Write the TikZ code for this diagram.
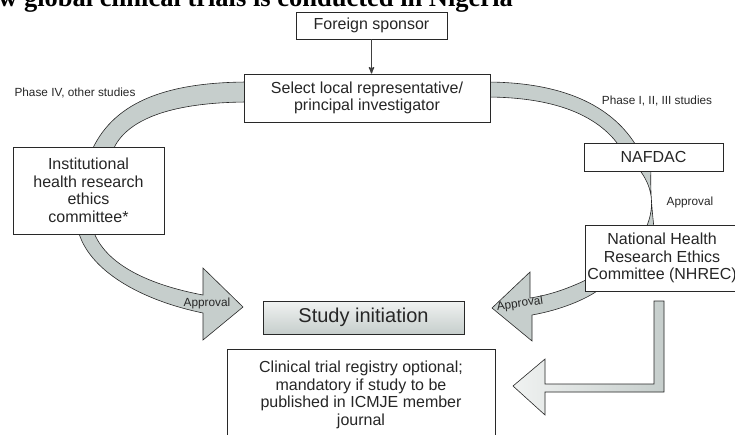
\documentclass[tikz,border=0pt]{standalone}
\usepackage{fontspec}
\setmainfont{Liberation Sans}
\newfontfamily\titlefont{Liberation Serif}
\usepackage{tikz}
\usetikzlibrary{arrows}
\definecolor{band}{RGB}{198,206,204}
\definecolor{bandlight}{RGB}{240,242,241}
\definecolor{edge}{RGB}{40,40,40}

\begin{document}
\begin{tikzpicture}[x=1pt, y=-1pt, >=stealth', semithick, align=center,
    every node/.style={font=\fontsize{16}{17.5}\selectfont, text=black!85}]

  \tikzstyle{box}=[draw=edge, fill=white, line width=0.7pt, inner sep=0pt]
  \tikzstyle{ribbon}=[draw=edge, fill=band, line width=0.6pt]
  \tikzstyle{small}=[font=\fontsize{11.8}{13}\selectfont]

  \useasboundingbox (0,0) rectangle (735,434);
  \clip (0,0) rectangle (735,434);

  \node[anchor=base west, inner sep=0pt, text=black,
  font=\titlefont\bfseries\fontsize{26.5}{30}\selectfont] (TITLE) at (-2,6)
  {w global clinical trials is conducted in Nigeria};

  \path[ribbon] (250,82) .. controls (170,82) and (115,100) .. (92,150)
  -- (113,150) .. controls (125,122) and (165,102) .. (250,102) -- cycle;
  \path[ribbon] (485,82) .. controls (570,82) and (615,110) .. (637,147)
  -- (620,147) .. controls (600,118) and (560,97) .. (485,97) -- cycle;
  \path[ribbon] (638,168) .. controls (652,185) and (656,205) .. (646,228)
  -- (654,228) .. controls (652,210) and (650,190) .. (651,168) -- cycle;
  \path[ribbon] (78,230) .. controls (88,270) and (140,300) .. (203,313)
  -- (203,340) -- (243,307) -- (203,268) -- (203,295)
  .. controls (150,285) and (105,265) .. (93,230) -- cycle;
  \path[ribbon] (590,278) .. controls (570,288) and (550,295) .. (530,298)
  -- (530,272) -- (492,308) -- (532,341) -- (532,315)
  .. controls (560,310) and (585,300) .. (600,289) -- cycle;
  \path[ribbon, left color=bandlight, right color=band] (654,301) -- (664,301)
  -- (664,392) -- (545,392) -- (545,415) -- (513,386) -- (545,359)
  -- (545,384) -- (654,384) -- cycle;

  \node[box, minimum width=151, minimum height=27] (SPONSOR) at (371.5,25.5) {Foreign sponsor};
  \node[box, minimum width=246, minimum height=48] (SELECT) at (367,98)
  {Select local representative/\\principal investigator};
  \node[box, minimum width=151, minimum height=87] (IHREC) at (88.5,190.5)
  {Institutional\\health research\\ethics\\committee*};
  \node[box, minimum width=139, minimum height=28] (NAFDAC) at (653.5,157) {NAFDAC};
  \node[box, minimum width=154, minimum height=66] (NHREC) at (662,258)
  {National Health\\Research Ethics\\Committee (NHREC)};
  \node[box, minimum width=201, minimum height=33, top color=bandlight,
  bottom color=band, font=\fontsize{20}{22}\selectfont] (INIT) at (363.5,317.5) {Study initiation};
  \node[box, minimum width=268, minimum height=92] (REG) at (361,395)
  {Clinical trial registry optional;\\mandatory if study to be\\published in ICMJE member\\journal};

  \node[small] (PHIV) at (75,93) {Phase IV, other studies};
  \node[small] (PHIII) at (657,101) {Phase I, II, III studies};
  \node[small] (APPNA) at (690,202) {Approval};
  \node[small] (APPIH) at (207,303) {Approval};
  \node[small, rotate=8] (APPNH) at (520,304) {Approval};

  \path[->, draw=black!75, line width=1.3pt] (SPONSOR) -- (SPONSOR |- SELECT.north);
\end{tikzpicture}
\end{document}
